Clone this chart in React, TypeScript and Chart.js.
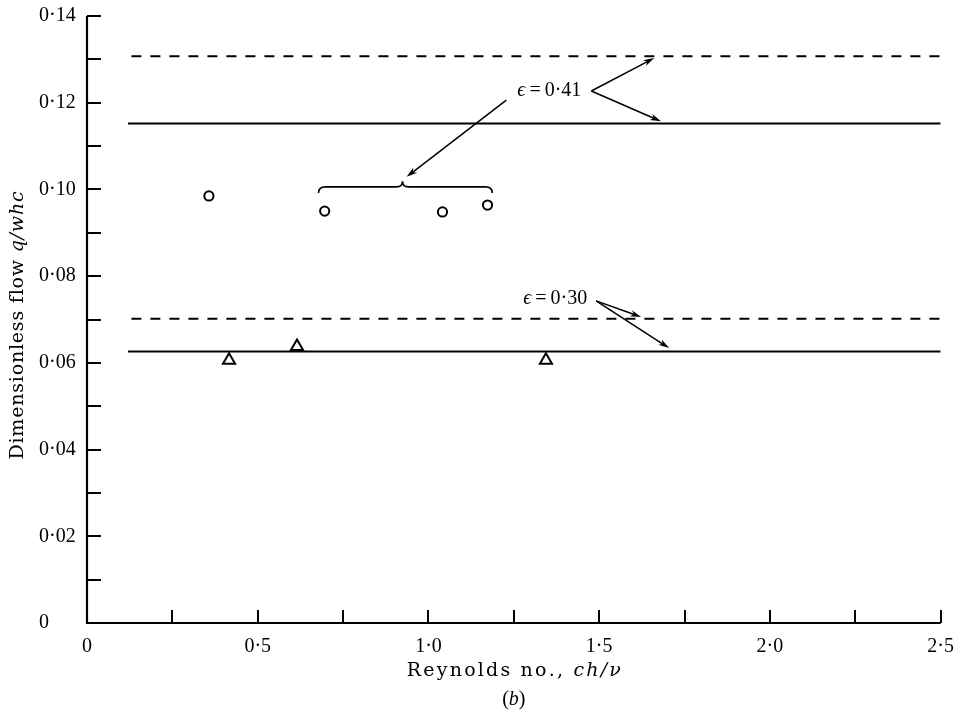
import React, { useEffect, useRef } from 'react';
import { Chart, registerables } from 'chart.js';

Chart.register(...registerables);

const FONT = "'Liberation Serif', 'Times New Roman', serif";
const TITLE_FONT = "'DejaVu Serif', serif";

// Experimental points
const circleX = [0.357, 0.696, 1.041, 1.173];
const circleY = [0.0985, 0.095, 0.0948, 0.0964];
const triangleX = [0.416, 0.615, 1.344];
const triangleY = [0.0606, 0.0638, 0.0606];

// Theory lines (epsilon = 0.41 dashed / solid, epsilon = 0.30 dashed / solid)
const lineStartX = [0.13, 0.12, 0.13, 0.12];
const lineEndX = [2.5, 2.5, 2.5, 2.5];
const lineY = [0.1307, 0.1152, 0.0702, 0.0626];
const lineDashed = [true, false, true, false];

// Axis ticks
const xTicks = [0, 0.5, 1.0, 1.5, 2.0, 2.5];
const xMinorTicks = [0.25, 0.75, 1.25, 1.75, 2.25];
const yTicks = [0, 0.02, 0.04, 0.06, 0.08, 0.1, 0.12, 0.14];
const yMinorTicks = [0.01, 0.03, 0.05, 0.07, 0.09, 0.11, 0.13];

// Annotations (data units)
const labelText = ['0·41', '0·30'];
const labelX = [1.354, 1.371];
const labelY = [0.1227, 0.0747];
const arrowFromX = [1.477, 1.477, 1.228, 1.491, 1.491];
const arrowFromY = [0.1227, 0.1227, 0.1206, 0.0743, 0.0743];
const arrowToX = [1.661, 1.681, 0.936, 1.623, 1.705];
const arrowToY = [0.1303, 0.1157, 0.1029, 0.0706, 0.0634];
const braceX = [0.678, 0.924, 1.187];
const braceY = [0.0992, 0.1006, 0.1019];

type Run = { text: string; italic?: boolean };

function drawRuns(
  ctx: CanvasRenderingContext2D,
  runs: Run[],
  cx: number,
  cy: number,
  size: number,
  opts: { family?: string; rotate?: boolean; spacing?: number } = {}
) {
  const family = opts.family ?? FONT;
  ctx.save();
  ctx.translate(cx, cy);
  if (opts.rotate) ctx.rotate(-Math.PI / 2);
  const parts: { ch: string; font: string; w: number }[] = [];
  let natural = 0;
  for (const r of runs) {
    const font = `${r.italic ? 'italic ' : ''}${size}px ${family}`;
    ctx.font = font;
    for (const ch of Array.from(r.text)) {
      const w = ctx.measureText(ch).width;
      parts.push({ ch, font, w });
      natural += w;
    }
  }
  const spacing = opts.spacing ?? 0;
  const total = natural + spacing * (parts.length - 1);
  let x = -total / 2;
  ctx.fillStyle = '#000';
  ctx.textBaseline = 'middle';
  ctx.textAlign = 'left';
  for (const p of parts) {
    ctx.font = p.font;
    ctx.fillText(p.ch, x, 0);
    x += p.w + spacing;
  }
  ctx.restore();
}

function drawArrow(ctx: CanvasRenderingContext2D, x1: number, y1: number, x2: number, y2: number) {
  const ang = Math.atan2(y2 - y1, x2 - x1);
  const len = 11;
  const hw = 3.2;
  ctx.beginPath();
  ctx.moveTo(x1, y1);
  ctx.lineTo(x2 - Math.cos(ang) * len * 0.6, y2 - Math.sin(ang) * len * 0.6);
  ctx.stroke();
  ctx.beginPath();
  ctx.moveTo(x2, y2);
  ctx.lineTo(x2 - Math.cos(ang) * len - Math.sin(ang) * hw, y2 - Math.sin(ang) * len + Math.cos(ang) * hw);
  ctx.lineTo(x2 - Math.cos(ang) * len * 0.7, y2 - Math.sin(ang) * len * 0.7);
  ctx.lineTo(x2 - Math.cos(ang) * len + Math.sin(ang) * hw, y2 - Math.sin(ang) * len - Math.cos(ang) * hw);
  ctx.closePath();
  ctx.fill();
}

const decorPlugin = {
  id: 'decor',
  afterDatasetsDraw(chart: any) {
    const ctx: CanvasRenderingContext2D = chart.ctx;
    const xs = chart.scales.x;
    const ys = chart.scales.y;
    const { left, right, top, bottom } = chart.chartArea;
    ctx.save();
    ctx.strokeStyle = '#000';
    ctx.fillStyle = '#000';
    ctx.lineCap = 'butt';

    // Axes
    ctx.lineWidth = 2.2;
    ctx.beginPath();
    ctx.moveTo(left, ys.getPixelForValue(0.14));
    ctx.lineTo(left, bottom);
    ctx.lineTo(xs.getPixelForValue(2.5), bottom);
    ctx.stroke();

    // Ticks
    ctx.lineWidth = 2;
    ctx.beginPath();
    for (const v of [...yTicks, ...yMinorTicks]) {
      if (v === 0) continue;
      const p = Math.round(ys.getPixelForValue(v));
      ctx.moveTo(left, p);
      ctx.lineTo(left + 14, p);
    }
    for (const v of [...xTicks, ...xMinorTicks]) {
      if (v === 0) continue;
      const p = Math.round(xs.getPixelForValue(v));
      ctx.moveTo(p, bottom);
      ctx.lineTo(p, bottom - 13);
    }
    ctx.stroke();

    // Arrows
    ctx.lineWidth = 1.5;
    for (let i = 0; i < arrowFromX.length; i++) {
      drawArrow(
        ctx,
        xs.getPixelForValue(arrowFromX[i]),
        ys.getPixelForValue(arrowFromY[i]),
        xs.getPixelForValue(arrowToX[i]),
        ys.getPixelForValue(arrowToY[i])
      );
    }

    // Brace
    const bx1 = xs.getPixelForValue(braceX[0]);
    const bxm = xs.getPixelForValue(braceX[1]);
    const bx2 = xs.getPixelForValue(braceX[2]);
    const byEnd = ys.getPixelForValue(braceY[0]);
    const byLine = ys.getPixelForValue(braceY[1]);
    const byTip = ys.getPixelForValue(braceY[2]);
    ctx.lineWidth = 1.6;
    ctx.beginPath();
    ctx.moveTo(bx1, byEnd);
    ctx.quadraticCurveTo(bx1, byLine, bx1 + 7, byLine);
    ctx.lineTo(bxm - 6, byLine);
    ctx.quadraticCurveTo(bxm, byLine, bxm, byTip);
    ctx.quadraticCurveTo(bxm, byLine, bxm + 6, byLine);
    ctx.lineTo(bx2 - 7, byLine);
    ctx.quadraticCurveTo(bx2, byLine, bx2, byEnd);
    ctx.stroke();

    // Epsilon labels
    for (let i = 0; i < labelText.length; i++) {
      drawRuns(
        ctx,
        [{ text: '\u03F5', italic: true }, { text: '\u2009=\u2009' + labelText[i] }],
        xs.getPixelForValue(labelX[i]),
        ys.getPixelForValue(labelY[i]),
        20
      );
    }

    // Axis titles
    const cxMid = (left + right) / 2;
    drawRuns(
      ctx,
      [{ text: 'Reynolds no., ' }, { text: 'ch/\u03BD', italic: true }],
      cxMid,
      bottom + 48,
      19,
      { family: TITLE_FONT, spacing: 2.2 }
    );
    drawRuns(ctx, [{ text: '(' }, { text: 'b', italic: true }, { text: ')' }], cxMid, bottom + 77, 20);
    drawRuns(
      ctx,
      [{ text: 'Dimensionless flow ' }, { text: 'q/whc', italic: true }],
      18,
      (top + bottom) / 2 + 6,
      19,
      { family: TITLE_FONT, spacing: 0.8, rotate: true }
    );
    ctx.restore();
  },
};

export default function App() {
  const ref = useRef<HTMLCanvasElement | null>(null);
  useEffect(() => {
    if (!ref.current) return;
    const lineDatasets = lineY.map((y, i) => ({
      type: 'line' as const,
      data: [
        { x: lineStartX[i], y },
        { x: lineEndX[i], y },
      ],
      borderColor: '#000',
      borderWidth: 2,
      borderDash: lineDashed[i] ? [10, 9] : [],
      pointRadius: 0,
      fill: false,
      showLine: true,
    }));
    const chart = new Chart(ref.current, {
      type: 'scatter',
      data: {
        datasets: [
          ...lineDatasets,
          {
            data: circleX.map((x, i) => ({ x, y: circleY[i] })),
            pointStyle: 'circle',
            pointRadius: 4.6,
            borderWidth: 2,
            borderColor: '#000',
            backgroundColor: '#fff',
          },
          {
            data: triangleX.map((x, i) => ({ x, y: triangleY[i] })),
            pointStyle: 'triangle',
            pointRadius: 7,
            borderWidth: 2,
            borderColor: '#000',
            backgroundColor: '#fff',
          },
        ] as any,
      },
      options: {
        animation: false,
        responsive: false,
        devicePixelRatio: 1,
        layout: { padding: { left: 39, top: 16, right: 24, bottom: 0 } },
        plugins: { legend: { display: false }, tooltip: { enabled: false } },
        scales: {
          x: {
            type: 'linear',
            min: 0,
            max: 2.5,
            grid: { display: false, drawTicks: false },
            border: { display: false },
            afterBuildTicks: (s: any) => {
              s.ticks = xTicks.map((v) => ({ value: v }));
            },
            afterFit: (s: any) => {
              s.height = 103;
            },
            ticks: {
              padding: 12,
              maxRotation: 0,
              color: '#000',
              font: { family: FONT, size: 20 },
              callback: (v: any) => (Number(v) === 0 ? '0' : Number(v).toFixed(1).replace('.', '·')),
            },
          },
          y: {
            type: 'linear',
            min: 0,
            max: 0.14,
            grid: { display: false, drawTicks: false },
            border: { display: false },
            afterBuildTicks: (s: any) => {
              s.ticks = yTicks.map((v) => ({ value: v }));
            },
            afterFit: (s: any) => {
              s.width = 48;
            },
            ticks: {
              crossAlign: 'far',
              color: '#000',
              font: { family: FONT, size: 20 },
              callback: (v: any) => (Number(v) === 0 ? '0' : Number(v).toFixed(2).replace('.', '·')),
            },
          },
        },
      },
      plugins: [decorPlugin],
    });
    return () => chart.destroy();
  }, []);
  return (
    <div style={{ position: 'absolute', left: 0, top: 0, width: 966, height: 726, background: '#fff' }}>
      <canvas ref={ref} width={966} height={726} style={{ width: 966, height: 726, display: 'block' }} />
    </div>
  );
}
